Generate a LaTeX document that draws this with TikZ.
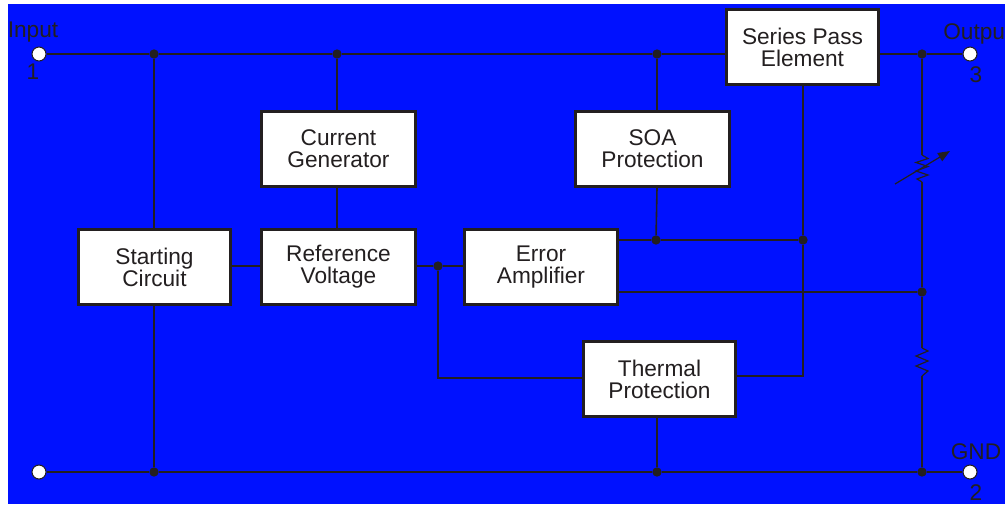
\documentclass[tikz,border=0pt]{standalone}
\usepackage{fontspec}
\setmainfont{Liberation Sans}
\usetikzlibrary{arrows.meta}
\definecolor{ink}{HTML}{231F20}
\definecolor{bluebg}{HTML}{0011FF}
\tikzset{
  blockbox/.style={draw=ink,line width=2.2pt,fill=white,inner sep=0pt,anchor=north west,align=center,text=ink,font=\fontsize{17}{16.5}\selectfont},
  wire/.style={draw=ink,line width=1.2pt},
  thin wire/.style={draw=ink,line width=0.9pt},
  junction/.style={circle,fill=ink,inner sep=0pt,minimum size=7pt},
  terminal/.style={circle,draw=ink,line width=0.8pt,fill=white,inner sep=0pt,minimum size=10.5pt},
  pinlabel/.style={text=ink,inner sep=0pt,font=\fontsize{17}{17}\selectfont}
}
\newcommand{\blk}[6]{\node[blockbox,minimum width=#4*0.75pt,minimum height=#5*0.75pt] (#1) at (#2,#3) {#6};}
\begin{document}
\begin{tikzpicture}[x=0.75pt,y=-0.75pt]
\useasboundingbox (0,0) rectangle (1005,504);
\fill[white] (0,0) rectangle (1005,504);
\fill[bluebg] (8,4) rectangle (1005,504);
% blocks
\blk{pass}{725}{8}{152}{75}{Series Pass\\Element}
\blk{cur}{260}{110}{154}{75}{Current\\Generator}
\blk{soa}{574}{110}{154}{75}{SOA\\Protection}
\blk{start}{77}{228}{152}{75}{Starting\\Circuit}
\blk{ref}{260}{228}{154}{75}{Reference\\Voltage}
\blk{err}{463}{228}{153}{75}{Error\\Amplifier}
\blk{therm}{582}{340}{152}{75}{Thermal\\Protection}
% terminals
\node[terminal] (tin) at (39,54) {};
\node[terminal] (tout) at (970,54) {};
\node[terminal] (tgnd) at (970,472) {};
\node[terminal] (tbl) at (39,472) {};
% junctions
\node[junction] (j1) at (154,54) {};
\node[junction] (j2) at (337,54) {};
\node[junction] (j3) at (657,54) {};
\node[junction] (j4) at (922,54) {};
\node[junction] (j5) at (154,472) {};
\node[junction] (j6) at (657,472) {};
\node[junction] (j7) at (922,472) {};
\node[junction] (j8) at (438,266) {};
\node[junction] (j9) at (656,240) {};
\node[junction] (j10) at (803,240) {};
\node[junction] (j11) at (922,292) {};
% coordinates
\coordinate (r1a) at (922,155);
\coordinate (r1b) at (922,182);
\coordinate (r2a) at (922,348);
\coordinate (r2b) at (922,376);
\coordinate (arrS) at (895,184);
\coordinate (arrE) at (950,151);
\coordinate (tc) at (803,376);
\coordinate (tl) at (438,378);
% rails
\draw[wire] (tin) -- (j1) -- (j2) -- (j3) -- (pass.west|-j3);
\draw[wire] (pass.east|-j4) -- (j4) -- (tout);
\draw[wire] (tbl) -- (j5) -- (j6) -- (j7) -- (tgnd);
% verticals
\draw[thin wire] (j1) -- (start.north-|j1);
\draw[thin wire] (start.south-|j5) -- (j5);
\draw[thin wire] (j2) -- (cur.north-|j2);
\draw[thin wire] (cur.south-|j2) -- (ref.north-|j2);
\draw[thin wire] (j3) -- (soa.north-|j3);
\draw[wire] (soa.south-|j3) -- (j9);
\draw[wire] (therm.south-|j6) -- (j6);
% signal
\draw[thin wire] (start.east|-j8) -- (ref.west|-j8);
\draw[thin wire] (ref.east|-j8) -- (j8) -- (err.west|-j8);
\draw[wire] (j8) -- (tl) -- (therm.west|-tl);
\draw[wire] (therm.east|-tc) -- (tc) -- (j10) -- (pass.south-|j10);
\draw[thin wire] (err.east|-j9) -- (j9) -- (j10);
\draw[thin wire] (err.east|-j11) -- (j11);
% output divider
\draw[wire] (j4) -- (r1a);
\draw[thin wire] (r1a) -- ++(6,3.5) -- ++(-12,4) -- ++(12,4) -- ++(-12,4.5) -- ++(12,4) -- ++(-11,4) -- (r1b);
\draw[wire] (r1b) -- (j11) -- (r2a);
\draw[thin wire] (r2a) -- ++(6,3) -- ++(-12,5) -- ++(12,5) -- ++(-12,5) -- ++(12,5) -- ++(-6,5) -- (r2b);
\draw[wire] (r2b) -- (j7);
\draw[thin wire,-{Triangle[length=9pt,width=7pt]}] (arrS) -- (arrE);
% labels
\node[pinlabel] (linput) at (33,32) {Input};
\node[pinlabel] (l1) at (33,72) {1};
\node[pinlabel,anchor=west] (loutput) at (943,34) {Output};
\node[pinlabel] (l3) at (976,75) {3};
\node[pinlabel] (lgnd) at (976,452) {GND};
\node[pinlabel] (l2) at (976,493) {2};
\end{tikzpicture}
\end{document}
